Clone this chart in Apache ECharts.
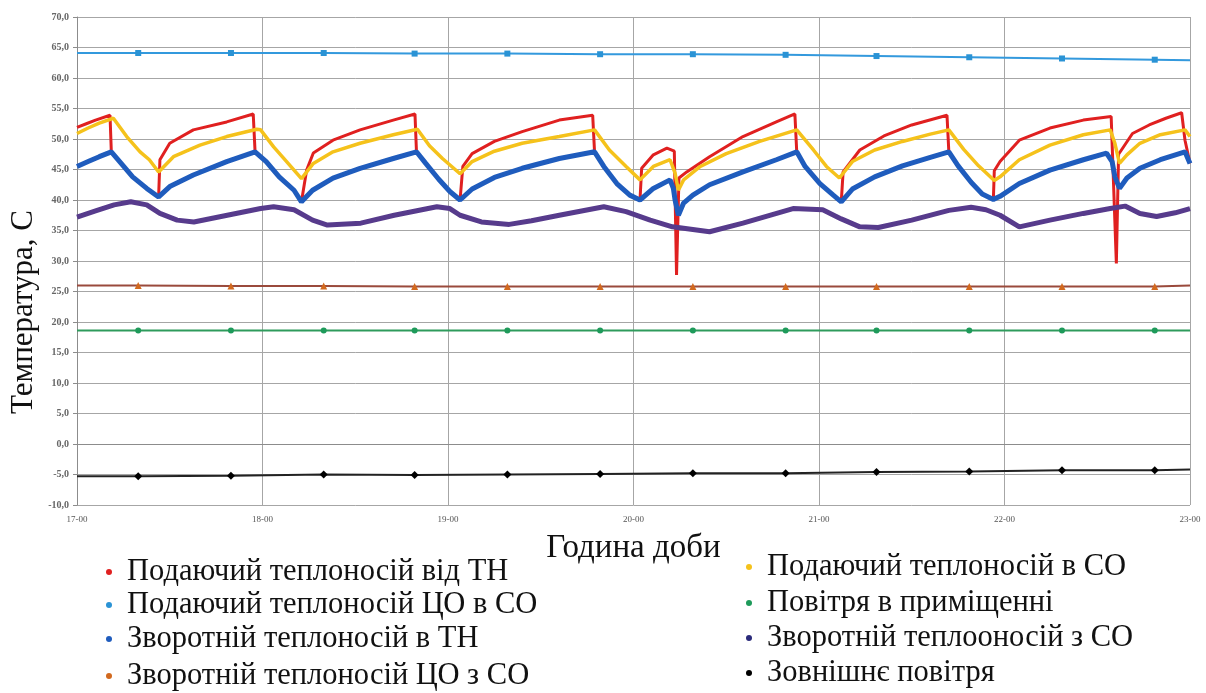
<!DOCTYPE html>
<html>
<head>
<meta charset="utf-8">
<script src="https://cdn.jsdelivr.net/npm/echarts@6/dist/echarts.min.js"></script>
<style>html,body{margin:0;padding:0;background:#fff;}#c{width:1206px;height:693px;}</style>
</head>
<body>
<div id="c"></div>
<script>
// ---- data (time in hours, temperature in °C) ----
const xTicks = [17, 18, 19, 20, 21, 22, 23];
const yTicks = [-10, -5, 0, 5, 10, 15, 20, 25, 30, 35, 40, 45, 50, 55, 60, 65, 70];

const supplyHP = [
  [17.00,51.9],[17.05,52.5],[17.10,53.1],[17.178,53.9],
  [17.185,47.9],[17.23,46.3],[17.30,43.8],[17.376,41.9],[17.44,40.5],
  [17.447,46.6],[17.50,49.3],[17.627,51.5],[17.807,52.8],[17.95,54.1],
  [17.96,47.9],[18.02,46.3],[18.09,43.8],[18.17,41.6],[18.21,39.7],
  [18.238,44.9],[18.274,47.7],[18.38,49.8],[18.526,51.5],[18.705,53.1],[18.822,54.1],
  [18.83,47.9],[18.88,46.0],[18.95,43.4],[19.01,41.4],[19.065,40.0],
  [19.08,45.5],[19.13,47.6],[19.25,49.6],[19.40,51.2],[19.60,53.1],[19.78,53.9],
  [19.79,47.9],[19.84,45.5],[19.91,42.7],[19.98,40.8],[20.035,40.0],
  [20.044,45.2],[20.107,47.4],[20.18,48.5],[20.22,48.0],[20.232,27.7],[20.245,43.6],
  [20.287,44.6],[20.41,47.1],[20.59,50.4],[20.77,52.8],[20.87,54.1],
  [20.88,47.9],[20.925,45.5],[21.005,42.7],[21.077,40.8],[21.12,39.7],
  [21.13,44.6],[21.22,48.2],[21.35,50.5],[21.50,52.3],[21.69,53.9],
  [21.70,47.9],[21.75,45.6],[21.82,42.9],[21.88,41.0],[21.94,40.1],
  [21.945,44.8],[21.976,46.3],[22.08,49.8],[22.245,51.8],[22.425,53.1],[22.575,53.7],
  [22.603,29.6],[22.615,47.5],[22.69,50.9],[22.78,52.3],[22.87,53.4],[22.955,54.3],
  [22.973,49.8],[23.00,46.0]
];
const returnHP = [
  [17.00,45.5],[17.06,46.3],[17.12,47.1],[17.185,47.9],
  [17.23,46.3],[17.30,43.8],[17.376,41.9],[17.44,40.5],
  [17.50,42.2],[17.627,44.1],[17.807,46.3],[17.96,47.9],
  [18.02,46.3],[18.09,43.8],[18.17,41.6],[18.21,39.7],
  [18.27,41.6],[18.38,43.6],[18.526,45.2],[18.705,46.8],[18.83,47.9],
  [18.88,46.0],[18.95,43.4],[19.01,41.4],[19.065,40.0],
  [19.13,41.8],[19.25,43.7],[19.40,45.2],[19.60,46.8],[19.79,47.9],
  [19.84,45.5],[19.91,42.7],[19.98,40.8],[20.035,40.0],
  [20.107,41.9],[20.197,43.3],[20.215,41.9],[20.224,40.0],[20.242,37.5],[20.27,39.5],
  [20.32,40.8],[20.41,42.5],[20.59,44.6],[20.77,46.6],[20.88,47.9],
  [20.925,45.5],[21.005,42.7],[21.077,40.8],[21.12,39.7],
  [21.18,41.8],[21.30,43.8],[21.45,45.6],[21.60,47.0],[21.70,47.9],
  [21.75,45.6],[21.82,42.9],[21.88,41.0],[21.94,40.1],
  [21.976,40.6],[22.08,42.7],[22.245,44.9],[22.425,46.6],[22.55,47.7],
  [22.58,46.3],[22.595,43.8],[22.62,41.9],[22.66,43.6],[22.73,45.2],[22.84,46.6],
  [22.973,47.9],[23.00,46.0]
];
const supplySO = [
  [17.00,50.9],[17.06,51.8],[17.12,52.6],[17.196,53.4],
  [17.268,50.4],[17.34,47.9],[17.39,46.6],[17.44,44.6],
  [17.52,47.1],[17.663,49.0],[17.807,50.4],[17.969,51.6],
  [17.99,51.5],[18.06,48.7],[18.13,46.3],[18.21,43.5],
  [18.274,46.0],[18.38,47.9],[18.526,49.3],[18.705,50.7],[18.835,51.6],
  [18.90,48.9],[18.97,46.8],[19.065,44.3],
  [19.13,46.3],[19.25,48.0],[19.40,49.3],[19.60,50.4],[19.79,51.5],
  [19.87,48.2],[19.96,45.5],[20.035,43.3],
  [20.107,45.5],[20.197,46.6],[20.224,44.4],[20.242,41.6],[20.27,43.3],
  [20.36,45.5],[20.50,47.6],[20.68,49.6],[20.88,51.5],
  [20.97,48.2],[21.04,45.5],[21.11,43.6],
  [21.18,46.3],[21.30,48.2],[21.45,49.6],[21.60,50.8],[21.70,51.5],
  [21.78,48.3],[21.86,45.6],[21.945,43.2],
  [21.976,43.8],[22.08,46.6],[22.245,49.0],[22.425,50.7],[22.57,51.5],
  [22.595,49.3],[22.62,46.0],[22.66,47.4],[22.73,49.3],[22.84,50.7],
  [22.973,51.5],[23.00,50.4]
];
const returnSO = [
  [17.00,37.2],[17.10,38.2],[17.20,39.2],[17.29,39.7],[17.376,39.2],[17.447,37.8],
  [17.54,36.7],[17.63,36.4],[17.81,37.5],[17.99,38.6],[18.06,38.9],[18.17,38.4],
  [18.27,36.7],[18.35,35.9],[18.53,36.2],[18.71,37.5],[18.94,38.9],[19.01,38.6],
  [19.065,37.5],[19.18,36.4],[19.33,36.0],[19.45,36.6],[19.60,37.5],[19.84,38.9],
  [19.96,38.1],[20.09,36.7],[20.21,35.6],[20.41,34.8],[20.59,36.2],[20.86,38.6],
  [21.02,38.4],[21.12,36.9],[21.22,35.6],[21.32,35.5],[21.50,36.7],[21.70,38.3],
  [21.82,38.8],[21.90,38.4],[21.976,37.5],[22.08,35.6],[22.245,36.7],[22.425,37.8],
  [22.57,38.6],[22.65,39.0],[22.73,37.8],[22.82,37.3],[22.92,37.9],[23.00,38.6]
];
// slow series: sampled at marker times (first and last = line ends)
const slowTimes   = [17.00,17.33,17.83,18.33,18.82,19.32,19.82,20.32,20.82,21.31,21.81,22.31,22.81,23.00];
const supplyDH    = [64.1,64.1,64.1,64.1,64.0,64.0,63.9,63.9,63.8,63.6,63.4,63.2,63.0,62.9];
const returnDH    = [26.0,26.0,25.9,25.9,25.8,25.8,25.8,25.8,25.8,25.8,25.8,25.8,25.8,26.0];
const indoorAir   = [18.6,18.6,18.6,18.6,18.6,18.6,18.6,18.6,18.6,18.6,18.6,18.6,18.6,18.6];
const outdoorAir  = [-5.3,-5.3,-5.2,-5.0,-5.1,-5.0,-4.9,-4.8,-4.8,-4.6,-4.5,-4.3,-4.3,-4.2];

const names = {
  supplyHP: 'Подаючий теплоносій від ТН',
  supplyDH: 'Подаючий теплоносій ЦО в СО',
  returnHP: 'Зворотній теплоносій в ТН',
  returnDH: 'Зворотній теплоносій ЦО з СО',
  supplySO: 'Подаючий теплоносій в СО',
  indoorAir: 'Повітря в приміщенні',
  returnSO: 'Зворотній теплооносій з СО',
  outdoorAir: 'Зовнішнє повітря'
};
const xTitle = 'Година доби';
const yTitle = 'Температура, С';

// ---- chart ----
const serif = 'Liberation Serif';
function slow(vals) {
  return slowTimes.map((t, i) => {
    const item = { value: [t, vals[i]] };
    if (i === 0 || i === slowTimes.length - 1) item.symbol = 'none';
    return item;
  });
}
// legend layout: [name, iconLeft, rowCenterY]
const legendLayout = [
  [names.supplyHP, 106, 572], [names.supplyDH, 106, 605], [names.returnHP, 106, 639], [names.returnDH, 106, 676],
  [names.supplySO, 746, 567], [names.indoorAir, 746, 603], [names.returnSO, 746, 638], [names.outdoorAir, 746, 673]
];
const chart = echarts.init(document.getElementById('c'), null, { renderer: 'canvas' });
chart.setOption({
  animation: false,
  backgroundColor: '#fff',
  grid: { left: 77, right: 16, top: 17, bottom: 188 },
  legend: legendLayout.map(([n, l, cy]) => ({
    left: l, top: cy - 16, padding: 0, orient: 'vertical', itemWidth: 8, itemHeight: 6, icon: 'circle',
    textStyle: { fontFamily: serif, fontSize: 30.5, color: '#111', lineHeight: 32, padding: [0, 0, 0, 9] },
    data: [n]
  })),
  graphic: [{
    type: 'text', x: 24, y: 312, rotation: Math.PI / 2,
    style: { text: yTitle, fontFamily: serif, fontSize: 31, fill: '#111', align: 'center', verticalAlign: 'middle' }
  }],
  xAxis: {
    type: 'value', min: xTicks[0], max: xTicks[xTicks.length - 1], interval: 1,
    name: xTitle, nameLocation: 'middle', nameGap: 27,
    nameTextStyle: { fontFamily: serif, fontSize: 33, color: '#111' },
    axisLine: { lineStyle: { color: '#8c8c8c', width: 1 } },
    axisTick: { show: false },
    axisLabel: { formatter: v => v + '-00', fontFamily: serif, fontSize: 9, color: '#555', margin: 10 },
    splitLine: { show: true, lineStyle: { color: '#a6a6a6', width: 1 } }
  },
  yAxis: {
    type: 'value', min: yTicks[0], max: yTicks[yTicks.length - 1], interval: 5,
    axisLine: { show: true, lineStyle: { color: '#8c8c8c', width: 1 } },
    axisTick: { show: true, length: 4, lineStyle: { color: '#8c8c8c' } },
    axisLabel: { formatter: v => v.toFixed(1).replace('.', ','), fontFamily: serif, fontSize: 10, fontWeight: 'bold', color: '#666', margin: 8 },
    splitLine: { show: true, lineStyle: { color: '#a6a6a6', width: 1 } }
  },
  series: [
    { name: names.supplyHP, type: 'line', data: supplyHP, showSymbol: false, z: 2,
      lineStyle: { color: '#e02020', width: 3 }, itemStyle: { color: '#e02020' } },
    { name: names.supplySO, type: 'line', data: supplySO, showSymbol: false, z: 3,
      lineStyle: { color: '#f5c21b', width: 3.5 }, itemStyle: { color: '#f5c21b' } },
    { name: names.returnHP, type: 'line', data: returnHP, showSymbol: false, z: 4,
      lineStyle: { color: '#1f5cbd', width: 5 }, itemStyle: { color: '#1f5cbd' } },
    { name: names.returnSO, type: 'line', data: returnSO, showSymbol: false, z: 4,
      lineStyle: { color: '#573b8c', width: 5 }, itemStyle: { color: '#2a2a7a' } },
    { name: names.supplyDH, type: 'line', data: slow(supplyDH), symbol: 'rect', symbolSize: 6, z: 5,
      lineStyle: { color: '#3399dd', width: 2 }, itemStyle: { color: '#2a93d5' } },
    { name: names.returnDH, type: 'line', data: slow(returnDH), symbol: 'triangle', symbolSize: 7, z: 5,
      lineStyle: { color: '#9a4a3c', width: 2 }, itemStyle: { color: '#d2691e' } },
    { name: names.indoorAir, type: 'line', data: slow(indoorAir), symbol: 'circle', symbolSize: 6, z: 5,
      lineStyle: { color: '#2e9b5c', width: 2 }, itemStyle: { color: '#1e9a5a' } },
    { name: names.outdoorAir, type: 'line', data: slow(outdoorAir), symbol: 'diamond', symbolSize: 8, z: 5,
      lineStyle: { color: '#222', width: 2 }, itemStyle: { color: '#000' } }
  ]
});
</script>
</body>
</html>
